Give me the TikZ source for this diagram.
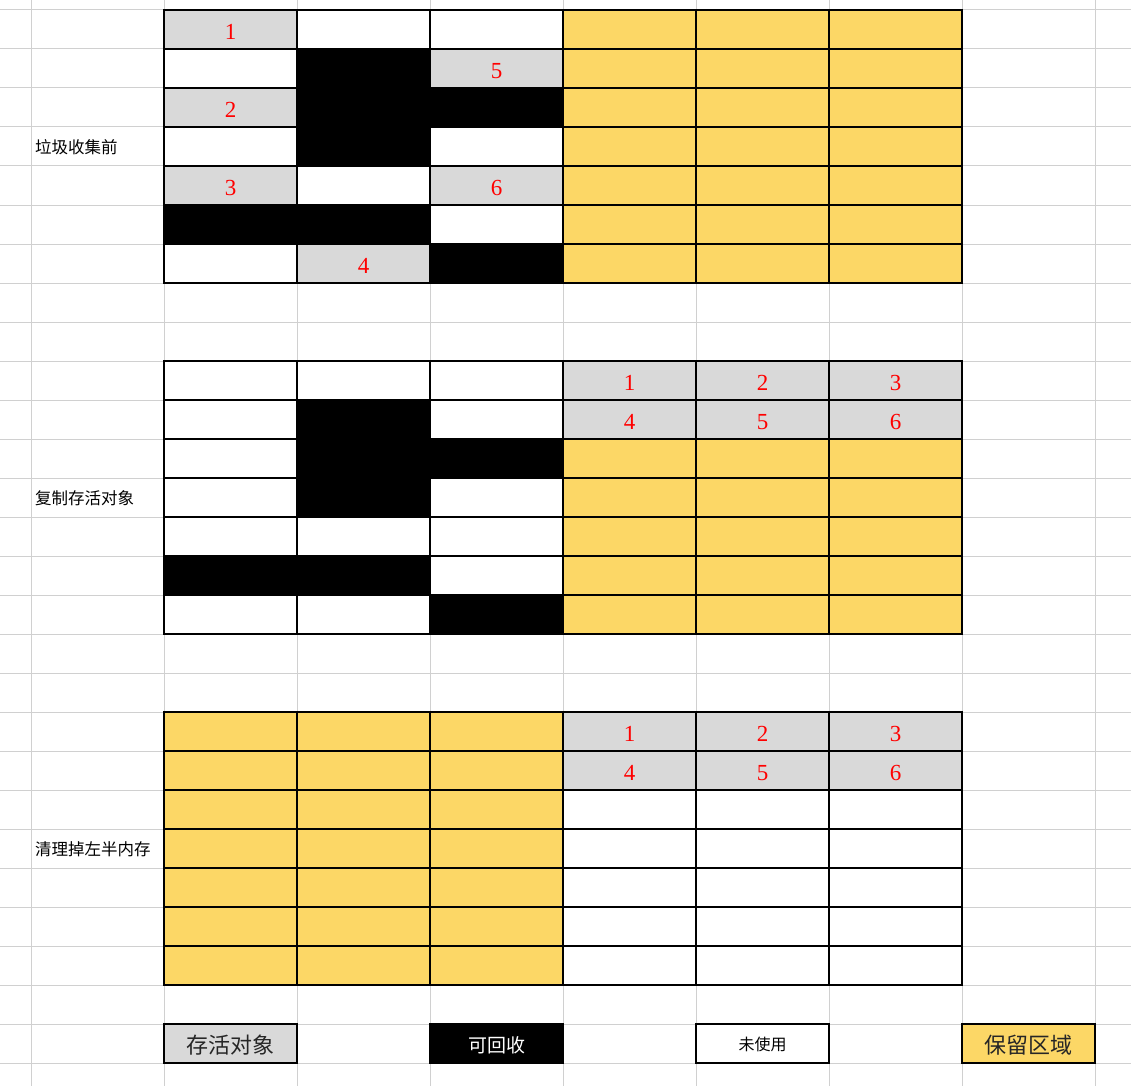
\documentclass[tikz,border=0pt]{standalone}
\usepackage{fontspec}
\newfontfamily\cjk{Noto Sans CJK SC}
\newfontfamily\digitfont{Liberation Serif}
\definecolor{gridgray}{HTML}{D0D0D0}
\definecolor{livegray}{HTML}{D9D9D9}
\definecolor{resyellow}{HTML}{FCD766}
\definecolor{legtext}{HTML}{262626}
\newcommand\memrow[3]{%
  \foreach \s/\t [count=\c] in {#3} {
    \node[\s] (#1-\c) at ({164+133*(\c-1)},#2) {\t};
  }}
\begin{document}
\begin{tikzpicture}[x=1pt,y=-1pt,
  cellbox/.style={draw=black, line width=2.6pt, minimum width=133pt, minimum height=39pt,
    anchor=north west, inner sep=0pt, outer sep=0pt},
  livecell/.style={cellbox, fill=livegray, text=red, text height=20.5pt, text depth=0pt,
    font=\digitfont\fontsize{23}{23}\selectfont},
  freecell/.style={cellbox, fill=white},
  garbcell/.style={cellbox, fill=black},
  rescell/.style={cellbox, fill=resyellow},
  rowlabel/.style={anchor=west, inner sep=0pt, font=\cjk\fontsize{16.5}{16.5}\selectfont},
  gridline/.style={draw=gridgray, line width=1pt}]
\useasboundingbox (0,0) rectangle (1131,1086);
\fill[white] (0,0) rectangle (1131,1086);
% spreadsheet grid
\foreach \gx in {31,164,297,430,563,696,829,962,1095}
  \draw[gridline] (\gx,0) -- (\gx,1086);
\foreach \k in {0,...,27}
  \draw[gridline] (0,{10+39*\k}) -- (1131,{10+39*\k});
% block 1: before collection
\memrow{a0}{10}{livecell/1, freecell/{}, freecell/{}, rescell/{}, rescell/{}, rescell/{}}
\memrow{a1}{49}{freecell/{}, garbcell/{}, livecell/5, rescell/{}, rescell/{}, rescell/{}}
\memrow{a2}{88}{livecell/2, garbcell/{}, garbcell/{}, rescell/{}, rescell/{}, rescell/{}}
\memrow{a3}{127}{freecell/{}, garbcell/{}, freecell/{}, rescell/{}, rescell/{}, rescell/{}}
\memrow{a4}{166}{livecell/3, freecell/{}, livecell/6, rescell/{}, rescell/{}, rescell/{}}
\memrow{a5}{205}{garbcell/{}, garbcell/{}, freecell/{}, rescell/{}, rescell/{}, rescell/{}}
\memrow{a6}{244}{freecell/{}, livecell/4, garbcell/{}, rescell/{}, rescell/{}, rescell/{}}
% block 2: copy live objects
\memrow{b0}{361}{freecell/{}, freecell/{}, freecell/{}, livecell/1, livecell/2, livecell/3}
\memrow{b1}{400}{freecell/{}, garbcell/{}, freecell/{}, livecell/4, livecell/5, livecell/6}
\memrow{b2}{439}{freecell/{}, garbcell/{}, garbcell/{}, rescell/{}, rescell/{}, rescell/{}}
\memrow{b3}{478}{freecell/{}, garbcell/{}, freecell/{}, rescell/{}, rescell/{}, rescell/{}}
\memrow{b4}{517}{freecell/{}, freecell/{}, freecell/{}, rescell/{}, rescell/{}, rescell/{}}
\memrow{b5}{556}{garbcell/{}, garbcell/{}, freecell/{}, rescell/{}, rescell/{}, rescell/{}}
\memrow{b6}{595}{freecell/{}, freecell/{}, garbcell/{}, rescell/{}, rescell/{}, rescell/{}}
% block 3: clear left half
\memrow{c0}{712}{rescell/{}, rescell/{}, rescell/{}, livecell/1, livecell/2, livecell/3}
\memrow{c1}{751}{rescell/{}, rescell/{}, rescell/{}, livecell/4, livecell/5, livecell/6}
\memrow{c2}{790}{rescell/{}, rescell/{}, rescell/{}, freecell/{}, freecell/{}, freecell/{}}
\memrow{c3}{829}{rescell/{}, rescell/{}, rescell/{}, freecell/{}, freecell/{}, freecell/{}}
\memrow{c4}{868}{rescell/{}, rescell/{}, rescell/{}, freecell/{}, freecell/{}, freecell/{}}
\memrow{c5}{907}{rescell/{}, rescell/{}, rescell/{}, freecell/{}, freecell/{}, freecell/{}}
\memrow{c6}{946}{rescell/{}, rescell/{}, rescell/{}, freecell/{}, freecell/{}, freecell/{}}
% row labels
\node[rowlabel] (lab1) at (35,147) {垃圾收集前};
\node[rowlabel] (lab2) at (35,498) {复制存活对象};
\node[rowlabel] (lab3) at (35,849) {清理掉左半内存};
% legend
\node[cellbox, fill=livegray, text=legtext, text height=23pt, text depth=3pt,
  font=\cjk\fontsize{22}{22}\selectfont] (legLive) at (164,1024) {存活对象};
\node[cellbox, fill=black, text=white, text height=20pt, text depth=2pt,
  font=\cjk\fontsize{19}{19}\selectfont] (legGarb) at (430,1024) {可回收};
\node[cellbox, fill=white, text=black, text height=17pt, text depth=3pt,
  font=\cjk\fontsize{16}{16}\selectfont] (legFree) at (696,1024) {未使用};
\node[cellbox, fill=resyellow, text=legtext, text height=23pt, text depth=3pt,
  font=\cjk\fontsize{22}{22}\selectfont] (legRes) at (962,1024) {保留区域};
\end{tikzpicture}
\end{document}
